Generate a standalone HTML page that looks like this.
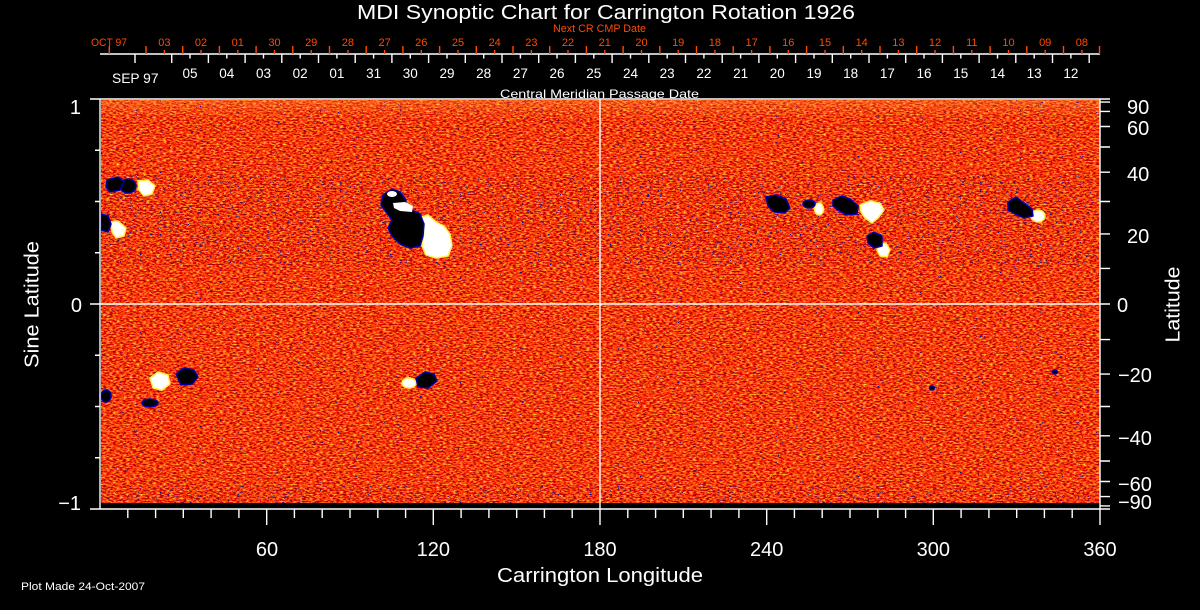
<!DOCTYPE html>
<html><head><meta charset="utf-8"><style>html,body{margin:0;padding:0;background:#000;}svg{display:block;}</style></head>
<body>
<svg width="1200" height="610" viewBox="0 0 1200 610" xmlns="http://www.w3.org/2000/svg" font-family="'Liberation Sans', sans-serif">
<defs>
 <filter id="tex" x="0" y="0" width="100%" height="100%" color-interpolation-filters="sRGB">
  <feTurbulence type="fractalNoise" baseFrequency="0.3 0.7" numOctaves="2" seed="7" result="n"/>
  <feColorMatrix in="n" type="matrix" values="1.6 0 0 0 0.24  1.9 0 0 0 -0.72  0.6 0 0 0 -0.26  0 0 0 0 1"/>
 </filter>
 <filter id="dots" x="0" y="0" width="100%" height="100%" color-interpolation-filters="sRGB">
  <feTurbulence type="fractalNoise" baseFrequency="0.45 0.8" numOctaves="1" seed="11"/>
  <feColorMatrix type="matrix" values="0 0 0 0 0.03  0 0 0 0 0.03  0 0 0 0 0.55  1 0 0 0 0"/>
  <feComponentTransfer><feFuncA type="discrete" tableValues="0 0 0 0 0 0 0 0 0 0 0 0 0 0 0 0 0 0 0 0 0 0 0 0 0 0 0 0 0 0 0 0 0 0 0 0 0 0 0 0 0 0 0 0 1 1 1 1 1 1 1 1 1 1 1 1 1 1 1 1"/></feComponentTransfer>
 </filter>
 <filter id="dots2" x="0" y="0" width="100%" height="100%" color-interpolation-filters="sRGB">
  <feTurbulence type="fractalNoise" baseFrequency="0.4 0.9" numOctaves="1" seed="23"/>
  <feColorMatrix type="matrix" values="0 0 0 0 0.03  0 0 0 0 0.03  0 0 0 0 0.52  1 0 0 0 0"/>
  <feComponentTransfer><feFuncA type="discrete" tableValues="0 0 0 0 0 0 0 0 0 0 0 0 0 0 0 0 0 0 0 0 0 0 0 0 0 0 0 0 0 0 0 0 0 0 0 0 0 0 0 0 0 0 1 1 1 1 1 1 1 1 1 1 1 1 1 1 1 1 1 1"/></feComponentTransfer>
 </filter>
 <linearGradient id="topg" x1="0" y1="0" x2="0" y2="1">
  <stop offset="0" stop-color="#ffa040" stop-opacity="0.35"/>
  <stop offset="1" stop-color="#ffa040" stop-opacity="0"/>
 </linearGradient>
</defs>
<rect width="1200" height="610" fill="#000"/>

<!-- image -->
<rect x="101" y="100" width="999" height="403" fill="#ec4c18"/>
<rect x="101" y="100" width="999" height="403" fill="#ec4c18" filter="url(#tex)"/>
<rect x="101" y="100" width="999" height="20" fill="url(#topg)"/>
<rect x="101" y="100" width="999" height="403" fill="#000" filter="url(#dots)"/>
<rect x="101" y="175" width="999" height="90" fill="#000" filter="url(#dots2)"/>
<rect x="101" y="486" width="999" height="17" fill="#000" filter="url(#dots2)"/>

<!-- active regions: white -->
<g fill="#ffffff" stroke="#ffef50" stroke-width="1.5" stroke-linejoin="round">
 <polygon points="138,181 148,180 155,186 152,194 144,196 139,190"/>
 <polygon points="111,222 118,221 126,228 124,236 116,238 112,232"/>
 <polygon points="418,218 428,215 436,222 444,226 450,234 452,246 448,256 436,258 426,255 422,246 424,232 418,226"/>
 <ellipse cx="819" cy="209" rx="4.5" ry="6"/>
 <polygon points="860,205 870,201 880,203 884,210 878,218 872,223 865,218 861,212"/>
 <polygon points="878,245 886,243 890,250 887,257 880,256 877,250"/>
 <ellipse cx="1038" cy="216" rx="7" ry="6"/>
 <polygon points="150,378 158,372 168,375 170,384 162,390 153,388"/>
 <ellipse cx="409" cy="383" rx="7" ry="5"/>
</g>
<!-- active regions: black -->
<g fill="#000" stroke="#0000a8" stroke-width="1.5" stroke-linejoin="round">
 <ellipse cx="128" cy="186" rx="8" ry="7"/>
 <polygon points="107,180 118,177 124,182 120,190 110,192 106,187"/>
 <polygon points="101,214 108,216 111,224 108,232 101,230"/>
 <polygon points="383,195 392,189 400,192 406,200 404,208 412,210 420,214 424,224 423,236 420,246 410,248 400,244 392,236 388,228 392,220 386,212 381,205"/>
 <polygon points="766,197 776,195 786,199 790,208 785,213 774,212 768,206"/>
 <ellipse cx="809" cy="204" rx="6" ry="4"/>
 <polygon points="833,200 842,196 850,199 858,206 857,214 846,215 838,210 833,206"/>
 <polygon points="867,236 874,232 882,236 882,246 874,248 868,243"/>
 <polygon points="1008,202 1016,197 1024,203 1032,209 1033,216 1024,218 1015,214 1008,210"/>
 <polygon points="176,374 184,368 194,370 198,377 192,384 181,385"/>
 <ellipse cx="150" cy="403" rx="8" ry="4"/>
 <ellipse cx="106" cy="396" rx="5" ry="6"/>
 <polygon points="416,378 425,372 434,374 437,381 428,388 418,387"/>
 <ellipse cx="932" cy="388" rx="2.5" ry="2"/>
 <ellipse cx="1055" cy="372" rx="2.5" ry="2"/>
</g>
<g fill="#ffffff" stroke="none">
 <polygon points="393,203 405,202 413,206 412,212 400,211 394,208"/>
 <ellipse cx="392" cy="194" rx="5" ry="3"/>
</g>

<!-- frame & grid -->
<g stroke="#fff" stroke-width="1.4" fill="none">
 <line x1="90" y1="99" x2="1110" y2="99"/>
 <line x1="90" y1="509" x2="1110" y2="509"/>
 <line x1="100" y1="99" x2="100" y2="509"/>
 <line x1="1100" y1="99" x2="1100" y2="509"/>
 <line x1="90" y1="304" x2="1110" y2="304"/>
 <line x1="600" y1="99" x2="600" y2="525"/>
 <path d="M95 150.25H100M95 201.5H100M95 252.75H100M95 355.25H100M95 406.5H100M95 457.75H100"/>
 <path d="M1100 102.1H1110M1100 111.4H1110M1100 126.5H1110M1100 147H1110M1100 172.2H1110M1100 201.5H1110M1100 233.9H1110M1100 268.4H1110M1100 339.6H1110M1100 374.1H1110M1100 406.5H1110M1100 435.8H1110M1100 461H1110M1100 481.5H1110M1100 496.6H1110M1100 505.9H1110"/>
 <path d="M127.8 509V518M155.6 509V518M183.3 509V518M211.1 509V518M238.9 509V518M266.7 509V525M294.4 509V518M322.2 509V518M350 509V518M377.8 509V518M405.6 509V518M433.3 509V525M461.1 509V518M488.9 509V518M516.7 509V518M544.4 509V518M572.2 509V518M627.8 509V518M655.6 509V518M683.3 509V518M711.1 509V518M738.9 509V518M766.7 509V525M794.4 509V518M822.2 509V518M850 509V518M877.8 509V518M905.6 509V518M933.3 509V525M961.1 509V518M988.9 509V518M1016.7 509V518M1044.4 509V518M1072.2 509V518M1100 509V525"/>
 <line x1="100" y1="54" x2="1100" y2="54"/>
 <path d="M135 54V63M171.7 54V63M208.4 54V63M245.1 54V63M281.8 54V63M318.5 54V63M355.2 54V63M391.9 54V63M428.6 54V63M465.3 54V63M502 54V63M538.7 54V63M575.4 54V63M612.1 54V63M648.8 54V63M685.5 54V63M722.2 54V63M758.9 54V63M795.6 54V63M832.3 54V63M869 54V63M905.7 54V63M942.4 54V63M979.1 54V63M1015.8 54V63M1052.5 54V63M1089.2 54V63"/>
 <path d="M190 54V58.5M226.8 54V58.5M263.5 54V58.5M300.2 54V58.5M336.9 54V58.5M373.6 54V58.5M410.3 54V58.5M447 54V58.5M483.7 54V58.5M520.4 54V58.5M557 54V58.5M593.8 54V58.5M630.5 54V58.5M667.2 54V58.5M703.9 54V58.5M740.6 54V58.5M777.3 54V58.5M814 54V58.5M850.7 54V58.5M887.4 54V58.5M924 54V58.5M960.8 54V58.5M997.5 54V58.5M1034.2 54V58.5M1070.9 54V58.5"/>
</g>
<g stroke="#ff4a00" stroke-width="1.4" fill="none">
 <path d="M109.3 46V54M146 46V54M182.7 46V54M219.4 46V54M256.1 46V54M292.8 46V54M329.5 46V54M366.2 46V54M402.9 46V54M439.6 46V54M476.3 46V54M513 46V54M549.7 46V54M586.4 46V54M623.1 46V54M659.8 46V54M696.5 46V54M733.2 46V54M769.9 46V54M806.6 46V54M843.3 46V54M880 46V54M916.7 46V54M953.4 46V54M990.1 46V54M1026.8 46V54M1063.5 46V54M1099.5 46V54"/>
 <path d="M164.4 50V54M201 50V54M237.8 50V54M274.5 50V54M311.2 50V54M347.9 50V54M384.6 50V54M421.3 50V54M458 50V54M494.7 50V54M531.4 50V54M568 50V54M604.8 50V54M641.5 50V54M678.2 50V54M714.9 50V54M751.6 50V54M788.3 50V54M825 50V54M861.7 50V54M898.4 50V54M935 50V54M971.8 50V54M1008.5 50V54M1045.2 50V54M1081.9 50V54"/>
</g>

<!-- titles -->
<g fill="#fff">
 <text x="357" y="19" font-size="20" textLength="498" lengthAdjust="spacingAndGlyphs">MDI Synoptic Chart for Carrington Rotation 1926</text>
 <text x="500" y="98" font-size="12" textLength="199" lengthAdjust="spacingAndGlyphs">Central Meridian Passage Date</text>
 <text x="497" y="582" font-size="20" textLength="206" lengthAdjust="spacingAndGlyphs">Carrington Longitude</text>
 <text x="21" y="590" font-size="11" textLength="124" lengthAdjust="spacingAndGlyphs">Plot Made 24-Oct-2007</text>
 <text transform="translate(38.5,304.5) rotate(-90)" text-anchor="middle" font-size="20" textLength="127" lengthAdjust="spacingAndGlyphs">Sine Latitude</text>
 <text transform="translate(1179.5,304.5) rotate(-90)" text-anchor="middle" font-size="20" textLength="76" lengthAdjust="spacingAndGlyphs">Latitude</text>
</g>
<g fill="#ff4a00">
 <text x="553" y="32" font-size="11" textLength="93" lengthAdjust="spacingAndGlyphs">Next CR CMP Date</text>
 <text x="91" y="46" font-size="11" textLength="36" lengthAdjust="spacingAndGlyphs">OCT 97</text>
</g>
<g fill="#ff4a00" font-size="11" text-anchor="middle">
 <text x="164.4" y="46">03</text><text x="201" y="46">02</text><text x="237.8" y="46">01</text><text x="274.5" y="46">30</text><text x="311.2" y="46">29</text><text x="347.9" y="46">28</text><text x="384.6" y="46">27</text><text x="421.3" y="46">26</text><text x="458" y="46">25</text><text x="494.7" y="46">24</text><text x="531.4" y="46">23</text><text x="568" y="46">22</text><text x="604.8" y="46">21</text><text x="641.5" y="46">20</text><text x="678.2" y="46">19</text><text x="714.9" y="46">18</text><text x="751.6" y="46">17</text><text x="788.3" y="46">16</text><text x="825" y="46">15</text><text x="861.7" y="46">14</text><text x="898.4" y="46">13</text><text x="935" y="46">12</text><text x="971.8" y="46">11</text><text x="1008.5" y="46">10</text><text x="1045.2" y="46">09</text><text x="1081.9" y="46">08</text>
</g>
<g fill="#fff" font-size="13.5" text-anchor="middle">
 <text x="190" y="78">05</text><text x="226.8" y="78">04</text><text x="263.5" y="78">03</text><text x="300.2" y="78">02</text><text x="336.9" y="78">01</text><text x="373.6" y="78">31</text><text x="410.3" y="78">30</text><text x="447" y="78">29</text><text x="483.7" y="78">28</text><text x="520.4" y="78">27</text><text x="557" y="78">26</text><text x="593.8" y="78">25</text><text x="630.5" y="78">24</text><text x="667.2" y="78">23</text><text x="703.9" y="78">22</text><text x="740.6" y="78">21</text><text x="777.3" y="78">20</text><text x="814" y="78">19</text><text x="850.7" y="78">18</text><text x="887.4" y="78">17</text><text x="924" y="78">16</text><text x="960.8" y="78">15</text><text x="997.5" y="78">14</text><text x="1034.2" y="78">13</text><text x="1070.9" y="78">12</text>
</g>
<text x="112" y="83" fill="#fff" font-size="13.5" textLength="46.5" lengthAdjust="spacingAndGlyphs">SEP 97</text>

<!-- axis labels -->
<g fill="#fff" font-size="20">
 <text x="81" y="114" text-anchor="end">1</text>
 <text x="82" y="312" text-anchor="end">0</text>
 <text x="81" y="510" text-anchor="end">−1</text>
 <g text-anchor="middle">
  <text x="267" y="556">60</text><text x="433.3" y="556">120</text><text x="600" y="556">180</text><text x="766.7" y="556">240</text><text x="933.3" y="556">300</text><text x="1100" y="556">360</text>
 </g>
 <text x="1127" y="114">90</text>
 <text x="1127" y="135">60</text>
 <text x="1127" y="181">40</text>
 <text x="1127" y="243">20</text>
 <text x="1117" y="312">0</text>
 <text x="1118" y="382">−20</text>
 <text x="1118" y="445">−40</text>
 <text x="1118" y="491">−60</text>
 <text x="1118" y="509">−90</text>
</g>
</svg>
</body></html>
